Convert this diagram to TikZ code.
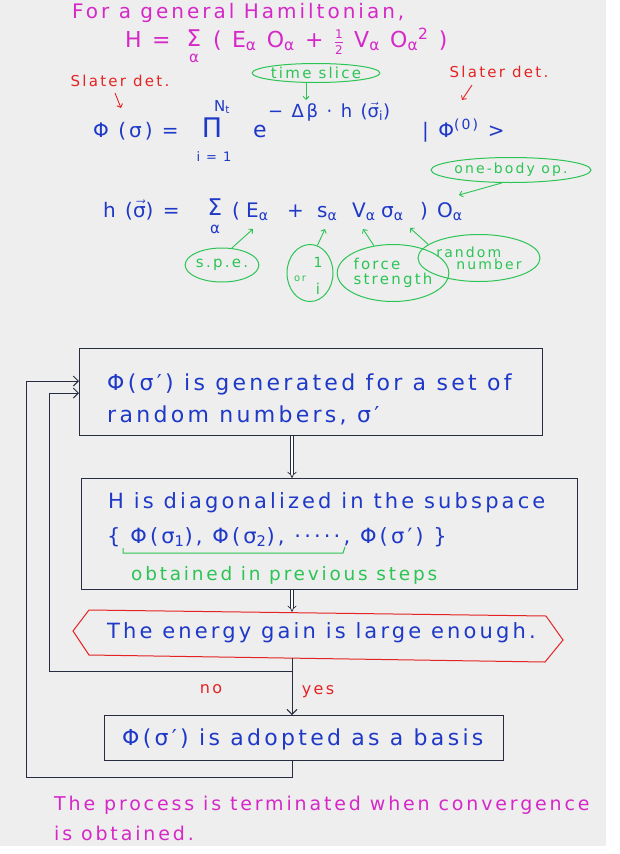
\documentclass[tikz,border=0pt]{standalone}
\usepackage{fontspec}
\newfontfamily\hand[LetterSpace=15]{DejaVu Sans}
\usetikzlibrary{arrows.meta,shapes.geometric}
\definecolor{paper}{RGB}{238,238,238}
\definecolor{magc}{RGB}{214,40,200}
\definecolor{redc}{RGB}{228,36,36}
\definecolor{bluec}{RGB}{30,56,200}
\definecolor{greenc}{RGB}{44,196,84}
\definecolor{ink}{RGB}{40,44,64}
\newcommand\fs[1]{\fontsize{#1}{#1}\selectfont}
\newcommand\sub[1]{\textsubscript{#1}}
\newcommand\sups[1]{\textsuperscript{#1}}
\newcommand\vsig{$\vec{\hbox{σ}}$}
\tikzset{
  txt/.style={inner sep=0pt, anchor=base west},
  magtxt/.style={txt, text=magc, font=\hand\fs{20}},
  bluetxt/.style={txt, text=bluec, font=\hand\fs{20}},
  redtxt/.style={inner sep=0pt, text=redc, font=\hand\fs{15}},
  gnote/.style={ellipse, draw=greenc, line width=1pt, inner sep=0pt, text=greenc, font=\hand\fs{15}},
  garrow/.style={draw=greenc, line width=0.9pt, -{Straight Barb[length=3pt,width=6pt]}},
  rarrow/.style={draw=redc, line width=0.9pt, -{Straight Barb[length=3pt,width=6pt]}},
  box/.style={draw=ink, line width=1.3pt, rectangle, inner sep=0pt, anchor=north west},
  arr/.style={draw=ink, line width=1pt, -{Straight Barb[length=5pt,width=10pt]}},
  dbl/.style={draw=ink, line width=0.7pt, double, double distance=2.5pt, -{Implies[length=5pt,width=11pt]}},
}
\begin{document}
\begin{tikzpicture}[x=1pt,y=-1pt]
\useasboundingbox (0,0) rectangle (620,854);
\fill[white] (0,0) rectangle (620,854);
\fill[paper] (0,0) rectangle (606,846);

% ---- top: general Hamiltonian ----
\node[magtxt] (title) at (72,18) {For a general Hamiltonian,};
\node[magtxt, font=\hand\fs{22}] (Hl) at (125,47) {H =};
\node[inner sep=0pt, anchor=base, text=magc, font=\hand\fs{23}] (Hsum) at (194,46) {Σ};
\node[inner sep=0pt, anchor=base, text=magc, font=\hand\fs{15}] (Hsuma) at (194,62) {α};
\node[magtxt, font=\hand\fs{22}] (Hr) at (213,47) {( E\sub{α} O\sub{α} + $\frac{\hbox{\fs{12}1}}{\hbox{\fs{12}2}}$ V\sub{α} O\sub{α}\sups{2} )};

% ---- labels ----
\node[redtxt] (sl) at (120,81) {Slater det.};
\node[redtxt] (sr) at (499,72) {Slater det.};
\node[gnote, minimum width=125pt, minimum height=19pt] (ts) at (316,73) {time slice};
\coordinate (slT) at (121,108);
\coordinate (srT) at (462,100);
\coordinate (tsT) at (306,100);
\draw[rarrow] ([xshift=-5pt,yshift=-6pt]sl.south) -- (slT);
\draw[rarrow] ([xshift=-27pt,yshift=-7pt]sr.south) -- (srT);
\draw[garrow] (ts.south -| tsT) -- (tsT);

% ---- Phi(sigma) equation ----
\node[bluetxt] (lhs) at (93,137) {Φ (σ) =};
\node[inner sep=0pt, anchor=base, text=bluec, font=\hand\fs{27}] (prod) at (212,137) {Π};
\node[inner sep=0pt, anchor=base, text=bluec, font=\hand\fs{15}] (Nt) at (222,111) {N\sub{t}};
\node[inner sep=0pt, anchor=base, text=bluec, font=\hand\fs{13}] (ilim) at (214,161) {i = 1};
\node[bluetxt, font=\hand\fs{22}] (ee) at (253,137) {e};
\node[txt, text=bluec, font=\hand\fs{18}] (expo) at (268,117) {− Δβ · h (\vsig\sub{i})};
\node[bluetxt] (ket) at (422,137) {| Φ\sups{(0)} >};

% ---- h(sigma) equation ----
\node[bluetxt] (hl) at (103,217) {h (\vsig) =};
\node[inner sep=0pt, anchor=base, text=bluec, font=\hand\fs{23}] (hsum) at (215,215) {Σ};
\node[inner sep=0pt, anchor=base, text=bluec, font=\hand\fs{15}] (hsa) at (215,233) {α};
\node[bluetxt] (hpo) at (232,217) {(};
\node[bluetxt] (hE) at (246,217) {E\sub{α}};
\node[bluetxt] (hplus) at (287,217) {+};
\node[bluetxt] (hs) at (317,217) {s\sub{α}};
\node[bluetxt] (hV) at (352,217) {V\sub{α}};
\node[bluetxt] (hsig) at (381,217) {σ\sub{α}};
\node[bluetxt] (hpc) at (420,217) {)};
\node[bluetxt] (hO) at (437,217) {O\sub{α}};

% ---- annotations ----
\node[gnote, minimum width=142pt, minimum height=25pt, font=\hand\fs{14}] (ob) at (511,170) {one-body op.};
\node[gnote, minimum width=122pt, minimum height=47pt, font=\hand\fs{14}, align=left] (rand) at (479,258) {random\\[-2pt]\hspace*{20pt}number};
\node[gnote, minimum width=70pt, minimum height=34pt] (spe) at (222,265) {s.p.e.};
\node[gnote, minimum width=46pt, minimum height=57pt] (oneor) at (310,273) {};
\node[inner sep=0pt, text=greenc, font=\hand\fs{14}] (one) at (318,262) {1};
\node[inner sep=0pt, text=greenc, font=\hand\fs{10}] (orw) at (300,279) {or};
\node[inner sep=0pt, text=greenc, font=\hand\fs{15}] (ii) at (318,289) {i};
\node[gnote, minimum width=100pt, minimum height=57pt, align=left] (force) at (393,273) {force\\strength};
\coordinate (tE) at (253,229);
\coordinate (tS) at (325,229);
\coordinate (tV) at (363,229);
\coordinate (tSig) at (410,228);
\coordinate (tO) at (459,195);
\draw[garrow] (spe.60) -- (tE);
\draw[garrow] (oneor.75) -- (tS);
\draw[garrow] (force.125) -- (tV);
\draw[garrow] (rand.165) -- (tSig);
\draw[garrow] (ob.235) -- (tO);

% ---- flow chart ----
\coordinate (col) at (292,0);
\node[box, minimum width=463pt, minimum height=87pt] (b1) at (79,348) {};
\node[bluetxt, font=\hand\fs{22}] (t1a) at (107,390) {Φ(σ′) is generated for a set of};
\node[bluetxt, font=\hand\fs{22}] (t1b) at (107,422) {random numbers, σ′};

\node[box, minimum width=496pt, minimum height=111pt] (b2) at (81,478) {};
\node[bluetxt, font=\hand\fs{21}] (t2a) at (108,508) {H is diagonalized in the subspace};
\node[bluetxt, font=\hand\fs{21}] (t2b) at (107,543) {\{ Φ(σ\sub{1}), Φ(σ\sub{2}), ·····, Φ(σ′) \}};
\node[txt, text=greenc, font=\hand\fs{18.5}] (t2c) at (131,580) {obtained in previous steps};
\draw[greenc, line width=1pt] (123,548) -- (123,553) -- (343,553) -- (345,547);

\node[inner sep=0pt, minimum width=474pt, minimum height=46pt] (dec) at (318,635) {};
\draw[redc, line width=1pt] (89,610) -- (546,616) -- (563,640) -- (545,662) -- (89,655) -- (73,631) -- cycle;
\node[bluetxt, font=\hand\fs{21}] (t3) at (107,638) {The energy gain is large enough.};

\node[box, minimum width=399pt, minimum height=45pt] (b3) at (104,715) {};
\node[bluetxt, font=\hand\fs{22}] (t4) at (122,745) {Φ(σ′) is adopted as a basis};

\draw[dbl] (b1.south -| col) -- (b2.north -| col);
\draw[dbl] (b2.south -| col) -- (dec.north -| col);
\draw[arr] (dec.south -| col) -- (b3.north -| col);
\node[inner sep=0pt, text=redc, font=\hand\fs{16}] (yes) at (318,692) {yes};
\node[inner sep=0pt, text=redc, font=\hand\fs{16}] (no) at (211,689) {no};

\coordinate (nostart) at (292,671);
\coordinate (in1) at (49,393);
\draw[arr] (nostart) -| (in1) -- (in1 -| b1.west);
\coordinate (ob1) at (26,777);
\coordinate (ob2) at (26,381);
\draw[arr] (b3.south -| col) |- (ob1) -- (ob2) -- (ob2 -| b1.west);

% ---- bottom ----
\node[magtxt, font=\hand\fs{19}] (e1) at (54,810) {The process is terminated when convergence};
\node[magtxt, font=\hand\fs{19}] (e2) at (54,840) {is obtained.};
\end{tikzpicture}
\end{document}
